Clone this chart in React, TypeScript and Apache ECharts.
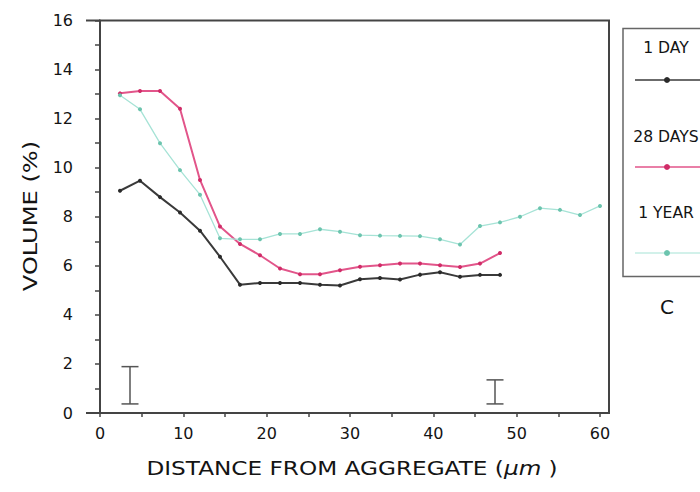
import React, { useEffect, useRef } from "react";
import * as echarts from "echarts";

const xStep = 2.4;
const oneDay = [9.06, 9.47, 8.8, 8.17, 7.43, 6.37, 5.23, 5.3, 5.3, 5.3, 5.23, 5.2, 5.45, 5.5, 5.44, 5.64, 5.74, 5.55, 5.63, 5.63];
const days28 = [13.03, 13.13, 13.13, 12.4, 9.5, 7.6, 6.89, 6.43, 5.89, 5.66, 5.66, 5.82, 5.96, 6.02, 6.09, 6.09, 6.02, 5.95, 6.09, 6.52];
const oneYear = [12.95, 12.38, 11.0, 9.9, 8.9, 7.12, 7.08, 7.08, 7.3, 7.3, 7.49, 7.39, 7.25, 7.23, 7.22, 7.21, 7.08, 6.87, 7.62, 7.77, 8.0, 8.35, 8.28, 8.07, 8.44];
const errorBars = [
  [3.6, 0.37, 1.89],
  [47.4, 0.37, 1.35],
];
const xTicks = [0, 5, 10, 15, 20, 25, 30, 35, 40, 45, 50, 55, 60];
const xLabels = [0, 10, 20, 30, 40, 50, 60];
const yTicks = [0, 1, 2, 3, 4, 5, 6, 7, 8, 9, 10, 11, 12, 13, 14, 15, 16];
const legendNames = ["1 DAY", "28 DAYS", "1 YEAR"];

const toPairs = (arr: number[]) => arr.map((v, i) => [+(xStep * (i + 1)).toFixed(2), v]);

const TXT = "#141414";
const AX = "#444";
const FONT = "DejaVu Sans";

export default function App() {
  const ref = useRef<HTMLDivElement>(null);
  useEffect(() => {
    if (!ref.current) return;
    const chart = echarts.init(ref.current, undefined, { renderer: "svg" });
    const colors = [
      { line: "#3a3a3a", mark: "#2a2a2a", w: 2 },
      { line: "#e2558a", mark: "#d02c68", w: 2 },
      { line: "#a6e3d6", mark: "#6cc4ae", w: 1.3 },
    ];
    const legendY = [
      { t: 48, l: 80 },
      { t: 137, l: 167 },
      { t: 213, l: 253 },
    ];
    const legendGraphics: any[] = [];
    legendNames.forEach((n, i) => {
      legendGraphics.push({
        type: "text",
        x: 666,
        y: legendY[i].t,
        scaleX: 1.04,
        style: { text: n, fill: TXT, font: `15px "${FONT}"`, textAlign: "center", textVerticalAlign: "middle" },
      });
      legendGraphics.push({
        type: "line",
        shape: { x1: 635, y1: legendY[i].l, x2: 705, y2: legendY[i].l },
        style: { stroke: colors[i].line, lineWidth: colors[i].w * 0.8 },
      });
      legendGraphics.push({
        type: "circle",
        shape: { cx: 667, cy: legendY[i].l, r: 3 },
        style: { fill: colors[i].mark },
      });
    });

    const option: any = {
      animation: false,
      backgroundColor: "#fff",
      grid: { left: 100, top: 20.5, right: 91, bottom: 79, show: true, borderColor: AX, borderWidth: 2 },
      xAxis: {
        type: "value",
        min: 0,
        max: 61.08,
        splitLine: { show: false },
        axisLine: { show: true, lineStyle: { color: AX, width: 2 } },
        axisTick: { show: true, customValues: xTicks, length: 4, lineStyle: { color: AX, width: 1.5 } },
        axisLabel: { customValues: xLabels, fontSize: 16, fontFamily: FONT, color: TXT, margin: 12 },
      },
      yAxis: {
        type: "value",
        min: 0,
        max: 16,
        interval: 2,
        splitLine: { show: false },
        axisLine: { show: true, lineStyle: { color: AX, width: 2 } },
        axisTick: { show: true, customValues: yTicks, length: 5, lineStyle: { color: AX, width: 1.5 } },
        axisLabel: { fontSize: 16, fontFamily: FONT, color: TXT, margin: 27 },
      },
      series: [
        ...[oneDay, days28, oneYear].map((d, i) => ({
          type: "line",
          name: legendNames[i],
          data: toPairs(d),
          symbol: "circle",
          symbolSize: 4,
          lineStyle: { color: colors[i].line, width: colors[i].w },
          itemStyle: { color: colors[i].mark },
        })),
        {
          type: "custom",
          data: errorBars,
          encode: { x: 0, y: [1, 2] },
          renderItem: (params: any, api: any) => {
            const x = api.value(0);
            const lo = api.value(1);
            const hi = api.value(2);
            const pt = api.coord([x, hi]);
            const pb = api.coord([x, lo]);
            const hw = 8.5;
            const st = { stroke: "#555", lineWidth: 1.5 };
            return {
              type: "group",
              children: [
                { type: "line", shape: { x1: pt[0], y1: pt[1], x2: pb[0], y2: pb[1] }, style: st },
                { type: "line", shape: { x1: pt[0] - hw, y1: pt[1], x2: pt[0] + hw, y2: pt[1] }, style: st },
                { type: "line", shape: { x1: pb[0] - hw, y1: pb[1], x2: pb[0] + hw, y2: pb[1] }, style: st },
              ],
            };
          },
        },
      ],
      graphic: [
        { type: "line", shape: { x1: 86, y1: 20.5, x2: 100, y2: 20.5 }, style: { stroke: AX, lineWidth: 2 } },
        { type: "line", shape: { x1: 86, y1: 413, x2: 100, y2: 413 }, style: { stroke: AX, lineWidth: 2 } },
        {
          type: "text",
          x: 30,
          y: 216,
          rotation: Math.PI / 2,
          scaleX: 1.27,
          style: { text: "VOLUME (%)", fill: TXT, font: `19px "${FONT}"`, textAlign: "center", textVerticalAlign: "middle" },
        },
        {
          type: "text",
          x: 352,
          y: 468,
          scaleX: 1.22,
          style: {
            text: "DISTANCE FROM AGGREGATE ({i|µm} )",
            rich: { i: { fontStyle: "italic", fontSize: 19, fontFamily: FONT, fill: TXT } },
            fill: TXT,
            font: `19px "${FONT}"`,
            textAlign: "center",
            textVerticalAlign: "middle",
          },
        },
        {
          type: "rect",
          shape: { x: 623, y: 28.5, width: 100, height: 248 },
          style: { fill: "none", stroke: "#666", lineWidth: 1.5 },
        },
        ...legendGraphics,
        {
          type: "text",
          x: 667,
          y: 307,
          style: { text: "C", fill: TXT, font: `20px "${FONT}"`, textAlign: "center", textVerticalAlign: "middle" },
        },
      ],
    };
    chart.setOption(option);
    return () => chart.dispose();
  }, []);
  return (
    <div
      ref={ref}
      style={{ position: "fixed", left: 0, top: 0, width: 700, height: 492, background: "#fff" }}
    />
  );
}
